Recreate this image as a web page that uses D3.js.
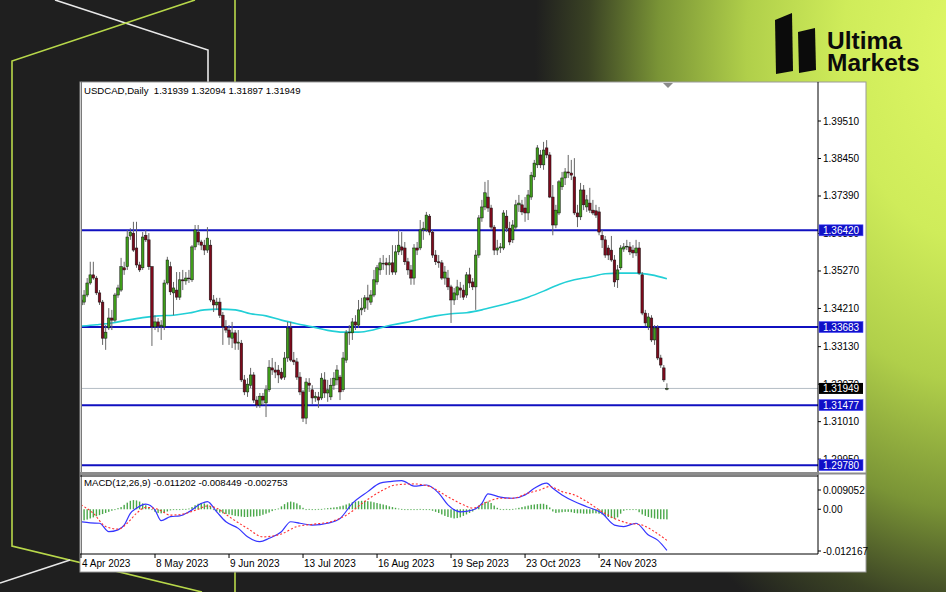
<!DOCTYPE html>
<html><head><meta charset="utf-8">
<script src="https://cdn.jsdelivr.net/npm/d3@7"></script>
<style>html,body{margin:0;padding:0;background:#1f1f1f;}svg{display:block}</style>
</head><body><svg id="c" width="946" height="592"></svg>
<script>
// ---------- DATA ----------
const opens=[1.3431,1.3439,1.3459,1.3493,1.3516,1.3507,1.3465,1.3439,1.3337,1.3366,
1.3394,1.3388,1.3459,1.3473,1.3536,1.3539,1.3626,1.3634,1.3592,1.3544,
1.3536,1.3628,1.3615,1.3539,1.3369,1.3383,1.3371,1.3369,1.3493,1.3539,
1.3465,1.3473,1.3453,1.3502,1.3499,1.3507,1.3502,1.3595,1.3637,1.3609,
1.3600,1.3586,1.3600,1.3445,1.3431,1.3439,1.3402,1.3369,1.3360,1.3337,
1.3352,1.3323,1.3323,1.3219,1.3185,1.3204,1.3233,1.3162,1.3148,1.3173,
1.3154,1.3191,1.3253,1.3247,1.3247,1.3241,1.3227,1.3281,1.3366,1.3275,
1.3270,1.3227,1.3185,1.3111,1.3210,1.3191,1.3168,1.3171,1.3168,1.3219,
1.3182,1.3171,1.3204,1.3219,1.3227,1.3191,1.3275,1.3352,1.3352,1.3383,
1.3374,1.3417,1.3422,1.3451,1.3439,1.3459,1.3496,1.3530,1.3547,1.3550,
1.3544,1.3550,1.3524,1.3581,1.3595,1.3592,1.3553,1.3530,1.3507,1.3592,
1.3592,1.3643,1.3643,1.3682,1.3637,1.3572,1.3553,1.3550,1.3507,1.3507,
1.3482,1.3445,1.3459,1.3479,1.3473,1.3459,1.3516,1.3496,1.3482,1.3572,
1.3677,1.3708,1.3736,1.3705,1.3651,1.3586,1.3592,1.3592,1.3682,1.3648,
1.3615,1.3651,1.3714,1.3714,1.3705,1.3691,1.3736,1.3793,1.3827,1.3855,
1.3827,1.3875,1.3855,1.3736,1.3657,1.3691,1.3765,1.3790,1.3807,1.3804,
1.3793,1.3691,1.3680,1.3756,1.3708,1.3719,1.3699,1.3697,1.3694,1.3628,
1.3615,1.3592,1.3586,1.3558,1.3502,1.3536,1.3589,1.3595,1.3595,1.3586,
1.3578,1.3592,1.3516,1.3408,1.3369,1.3394,1.3332,1.3366,1.3281,1.3253,
1.31939];
const highs=[1.3482,1.3473,1.3507,1.3553,1.3553,1.3513,1.3473,1.3445,1.3374,1.3422,
1.3417,1.3465,1.3488,1.3564,1.3553,1.3643,1.3648,1.3666,1.3666,1.3553,
1.3637,1.3643,1.3634,1.3541,1.3402,1.3394,1.3388,1.3502,1.3567,1.3553,
1.3496,1.3524,1.3524,1.3530,1.3524,1.3530,1.3600,1.3657,1.3657,1.3615,
1.3615,1.3651,1.3615,1.3459,1.3451,1.3451,1.3411,1.3388,1.3374,1.3383,
1.3360,1.3360,1.3332,1.3233,1.3224,1.3253,1.3241,1.3173,1.3182,1.3182,
1.3204,1.3275,1.3281,1.3270,1.3261,1.3253,1.3298,1.3383,1.3383,1.3298,
1.3281,1.3241,1.3191,1.3224,1.3224,1.3204,1.3185,1.3185,1.3238,1.3241,
1.3219,1.3224,1.3241,1.3261,1.3233,1.3298,1.3360,1.3374,1.3394,1.3402,
1.3445,1.3451,1.3459,1.3488,1.3473,1.3530,1.3544,1.3564,1.3572,1.3564,
1.3572,1.3600,1.3600,1.3643,1.3637,1.3609,1.3564,1.3544,1.3603,1.3609,
1.3671,1.3666,1.3694,1.3688,1.3643,1.3586,1.3572,1.3558,1.3541,1.3530,
1.3488,1.3479,1.3502,1.3496,1.3488,1.3524,1.3536,1.3507,1.3586,1.3685,
1.3728,1.3779,1.3784,1.3714,1.3657,1.3615,1.3606,1.3699,1.3699,1.3666,
1.3671,1.3728,1.3742,1.3728,1.3736,1.3756,1.3807,1.3841,1.3883,1.3869,
1.3892,1.3897,1.3863,1.3770,1.3714,1.3784,1.3807,1.3818,1.3855,1.3841,
1.3846,1.3714,1.3776,1.3770,1.3742,1.3762,1.3728,1.3714,1.3708,1.3643,
1.3626,1.3600,1.3626,1.3572,1.3544,1.3600,1.3606,1.3615,1.3609,1.3600,
1.3615,1.3609,1.3524,1.3417,1.3408,1.3402,1.3374,1.3374,1.3290,1.3261,
1.32094];
const lows=[1.3402,1.3431,1.3453,1.3488,1.3502,1.3459,1.3431,1.3318,1.3304,1.3360,
1.3360,1.3383,1.3451,1.3468,1.3516,1.3530,1.3615,1.3581,1.3536,1.3524,
1.3530,1.3609,1.3530,1.3315,1.3360,1.3354,1.3332,1.3360,1.3488,1.3459,
1.3402,1.3445,1.3445,1.3473,1.3488,1.3493,1.3496,1.3586,1.3600,1.3586,
1.3572,1.3578,1.3439,1.3411,1.3417,1.3394,1.3318,1.3352,1.3318,1.3309,
1.3304,1.3304,1.3213,1.3176,1.3171,1.3196,1.3154,1.3140,1.3140,1.3148,
1.3114,1.3185,1.3233,1.3224,1.3210,1.3219,1.3219,1.3270,1.3270,1.3261,
1.3219,1.3176,1.3100,1.3094,1.3185,1.3151,1.3157,1.3140,1.3162,1.3168,
1.3157,1.3162,1.3191,1.3204,1.3162,1.3185,1.3267,1.3318,1.3332,1.3360,
1.3366,1.3402,1.3411,1.3417,1.3431,1.3453,1.3488,1.3516,1.3530,1.3516,
1.3516,1.3516,1.3516,1.3572,1.3572,1.3544,1.3516,1.3488,1.3488,1.3572,
1.3586,1.3615,1.3637,1.3628,1.3564,1.3544,1.3536,1.3502,1.3488,1.3473,
1.3380,1.3431,1.3445,1.3451,1.3445,1.3451,1.3479,1.3473,1.3417,1.3564,
1.3666,1.3699,1.3694,1.3643,1.3572,1.3572,1.3578,1.3586,1.3637,1.3600,
1.3606,1.3643,1.3694,1.3685,1.3666,1.3671,1.3728,1.3784,1.3818,1.3818,
1.3813,1.3846,1.3733,1.3628,1.3648,1.3685,1.3756,1.3770,1.3790,1.3784,
1.3685,1.3651,1.3671,1.3699,1.3694,1.3691,1.3685,1.3677,1.3628,1.3592,
1.3564,1.3558,1.3553,1.3482,1.3479,1.3530,1.3581,1.3586,1.3572,1.3564,
1.3569,1.3516,1.3402,1.3371,1.3360,1.3326,1.3318,1.3275,1.3253,1.3213,
1.31897];
const closes=[1.3445,1.3459,1.3493,1.3516,1.3507,1.3465,1.3439,1.3337,1.3354,1.3394,
1.3388,1.3459,1.3479,1.3539,1.3530,1.3623,1.3637,1.3586,1.3544,1.3530,
1.3623,1.3615,1.3539,1.3369,1.3383,1.3371,1.3374,1.3493,1.3558,1.3468,
1.3479,1.3453,1.3502,1.3499,1.3507,1.3505,1.3595,1.3643,1.3609,1.3600,
1.3586,1.3620,1.3445,1.3431,1.3439,1.3402,1.3369,1.3360,1.3340,1.3352,
1.3323,1.3326,1.3219,1.3185,1.3207,1.3233,1.3162,1.3148,1.3173,1.3162,
1.3191,1.3255,1.3247,1.3241,1.3233,1.3224,1.3281,1.3366,1.3275,1.3270,
1.3227,1.3185,1.3111,1.3213,1.3204,1.3168,1.3173,1.3162,1.3224,1.3182,
1.3191,1.3204,1.3224,1.3247,1.3185,1.3281,1.3352,1.3354,1.3383,1.3374,
1.3417,1.3422,1.3451,1.3445,1.3459,1.3502,1.3536,1.3550,1.3549,1.3544,
1.3550,1.3524,1.3581,1.3600,1.3586,1.3553,1.3530,1.3507,1.3592,1.3586,
1.3643,1.3648,1.3685,1.3637,1.3572,1.3553,1.3550,1.3507,1.3524,1.3482,
1.3445,1.3465,1.3482,1.3473,1.3453,1.3516,1.3493,1.3482,1.3572,1.3677,
1.3708,1.3748,1.3705,1.3651,1.3586,1.3592,1.3595,1.3691,1.3648,1.3609,
1.3657,1.3714,1.3719,1.3694,1.3691,1.3742,1.3798,1.3832,1.3875,1.3827,
1.3869,1.3855,1.3736,1.3657,1.3699,1.3779,1.3790,1.3807,1.3804,1.3798,
1.3691,1.3680,1.3756,1.3714,1.3728,1.3699,1.3691,1.3685,1.3637,1.3615,
1.3572,1.3572,1.3558,1.3496,1.3530,1.3592,1.3595,1.3597,1.3581,1.3578,
1.3592,1.3521,1.3408,1.3380,1.3397,1.3332,1.3366,1.3281,1.3261,1.3219,
1.31949];
// moving average, read every 5 bars
const maIdx=[0,5,10,15,20,25,30,35,40,45,50,55,60,65,70,75,80,85,90,95,100,105,110,115,120,125,130,135,140,145,150,155,160,165,170,175,180,185,190];
const maVals=[1.3371,1.3375,1.3380,1.3388,1.3395,1.3400,1.3402,1.3408,1.3417,1.3419,1.3417,1.3406,1.3400,1.3388,1.3378,1.3369,1.3359,1.3354,1.3354,1.3361,1.3373,1.3381,1.3391,1.3400,1.3406,1.3409,1.3417,1.3428,1.3439,1.3453,1.3470,1.3489,1.3502,1.3510,1.3519,1.3521,1.3521,1.3516,1.3505];
// MACD main line
const macdIdx=[0,3,6,9,12,14,16,18,21,24,26,29,32,35,39,41,44,47,51,54,58,61,65,68,71,75,80,84,88,93,97,100,104,108,112,116,119,123,127,130,132,136,140,144,147,151,153,156,160,164,169,173,176,180,184,187,190];
const macdVals=[-0.0034,-0.0037,-0.0038,-0.0061,-0.0056,-0.0043,-0.0011,0.0003,0.0014,-0.0002,-0.0031,-0.0020,-0.0018,-0.0007,0.0016,0.0021,-0.0007,-0.0034,-0.0052,-0.0075,-0.0088,-0.0079,-0.0061,-0.0034,-0.0038,-0.0043,-0.0038,-0.0025,0.0016,0.0048,0.0071,0.0075,0.0078,0.0063,0.0066,0.0044,0.0012,-0.0007,-0.0002,0.0016,0.0042,0.0033,0.0030,0.0039,0.0057,0.0071,0.0057,0.0039,0.0021,0.0007,-0.0011,-0.0043,-0.0047,-0.0038,-0.0070,-0.0084,-0.011202];
// MACD signal line
const sigIdx=[0,4,8,12,15,18,21,25,29,33,38,41,44,48,54,59,65,70,75,81,86,92,97,102,108,113,119,124,127,132,136,140,145,149,152,156,160,164,169,173,177,182,186,190];
const sigVals=[0.0012,-0.0011,-0.0047,-0.0054,-0.0038,-0.0011,0.0005,0.0000,-0.0016,-0.0013,0.0000,0.0009,0.0003,-0.0020,-0.0052,-0.0075,-0.0067,-0.0047,-0.0041,-0.0034,-0.0016,0.0021,0.0048,0.0066,0.0069,0.0062,0.0034,0.0012,0.0003,0.0021,0.0030,0.0030,0.0044,0.0053,0.0062,0.0048,0.0039,0.0021,-0.0007,-0.0025,-0.0037,-0.0043,-0.0061,-0.008449];
// MACD histogram, one per bar
const histVals=[-0.0030,-0.0030,-0.0028,-0.0025,-0.0022,-0.0019,-0.0016,-0.0013,-0.0010,-0.0007,
-0.0004,-0.0001,0.0003,0.0006,0.0012,0.0018,0.0023,0.0025,0.0024,0.0021,
0.0016,0.0011,0.0005,-0.0002,-0.0007,-0.0010,-0.0011,-0.0009,-0.0006,-0.0003,
-0.0001,-0.0001,0.0000,0.0001,0.0001,0.0002,0.0006,0.0011,0.0015,0.0017,
0.0016,0.0013,0.0008,-0.0002,-0.0006,-0.0009,-0.0011,-0.0013,-0.0014,-0.0016,
-0.0018,-0.0019,-0.0020,-0.0021,-0.0021,-0.0020,-0.0020,-0.0019,-0.0018,-0.0015,
-0.0012,-0.0009,-0.0005,-0.0002,0.0002,0.0008,0.0014,0.0019,0.0021,0.0019,
0.0016,0.0011,0.0004,0.0000,0.0001,0.0000,0.0000,0.0001,0.0001,0.0002,
0.0003,0.0004,0.0005,0.0006,0.0008,0.0010,0.0013,0.0016,0.0019,0.0021,
0.0022,0.0023,0.0023,0.0022,0.0021,0.0019,0.0017,0.0015,0.0013,0.0011,
0.0008,0.0006,0.0004,0.0002,0.0001,0.0000,0.0000,-0.0001,0.0000,0.0000,
0.0001,0.0000,-0.0001,-0.0002,-0.0004,-0.0007,-0.0010,-0.0014,-0.0018,-0.0021,
-0.0023,-0.0025,-0.0024,-0.0022,-0.0018,-0.0014,-0.0010,-0.0006,0.0003,0.0010,
0.0016,0.0020,0.0021,0.0017,0.0010,0.0004,0.0001,0.0000,0.0001,0.0000,
0.0001,0.0002,0.0004,0.0006,0.0008,0.0010,0.0012,0.0013,0.0014,0.0015,
0.0015,0.0012,0.0005,-0.0006,-0.0010,-0.0009,-0.0008,-0.0007,-0.0007,-0.0008,
-0.0010,-0.0011,-0.0011,-0.0012,-0.0012,-0.0012,-0.0011,-0.0011,-0.0012,-0.0014,
-0.0018,-0.0021,-0.0024,-0.0026,-0.0022,-0.0012,-0.0004,-0.0002,-0.0001,0.0000,
-0.0001,-0.0008,-0.0014,-0.0018,-0.0021,-0.0023,-0.0025,-0.0026,-0.0027,-0.0027,
-0.002753];
const levels=[1.36420,1.33683,1.31477,1.29780];
const lastPrice=1.31949;
const priceTicks=[1.39510,1.38450,1.37390,1.36330,1.35270,1.34210,1.33130,1.32070,1.31010,1.29950];
const macdTicks=[0.009052,0.0,-0.012167];
const macdTickLabels=["0.009052","0.00","-0.012167"];
const dateTickIdx=[0,24,48,72,96,120,144,168];
const dateTickLabels=["4 Apr 2023","8 May 2023","9 Jun 2023","13 Jul 2023","16 Aug 2023","19 Sep 2023","23 Oct 2023","24 Nov 2023"];
const titleText="USDCAD,Daily  1.31939 1.32094 1.31897 1.31949";
const macdTitle="MACD(12,26,9) -0.011202 -0.008449 -0.002753";

// ---------- DRAW ----------
const svg=d3.select("#c");
const FONT="'Liberation Sans', Arial, sans-serif";
const defs=svg.append("defs");
const rg=defs.append("radialGradient").attr("id","bg").attr("gradientUnits","userSpaceOnUse")
  .attr("cx",975).attr("cy",50).attr("r",440)
  .attr("gradientTransform","translate(975,50) scale(1,1.45) translate(-975,-50)");
[[0,"#e0f866"],[0.3,"#cfec5a"],[0.52,"#b0cf4a"],[0.72,"#7a9436"],[0.88,"#3a4224"],[1,"#1f1f1f"]]
 .forEach(s=>rg.append("stop").attr("offset",s[0]).attr("stop-color",s[1]));
svg.append("rect").attr("width",946).attr("height",592).attr("fill","#1f1f1f");
svg.append("rect").attr("width",946).attr("height",592).attr("fill","url(#bg)");

// decorative lines
const deco=svg.append("g").attr("fill","none").attr("stroke-width",1.6);
deco.append("path").attr("d","M55,0 L208,50 L208,82").attr("stroke","#e8e8e8");
deco.append("path").attr("d","M195,0 L12,61 L12,546 L202,592").attr("stroke","#b8d84a");
deco.append("path").attr("d","M235,0 L235,82 M235,572 L235,592").attr("stroke","#b8d84a");
deco.append("path").attr("d","M0,583 L70,560").attr("stroke","#e8e8e8");

// logo
const logo=svg.append("g");
logo.append("path").attr("d","M775,20 L792,13 L793,71 L776,74 Z").attr("fill","#0b0b0b");
logo.append("path").attr("d","M798,32 L815,28 L816,70 L799,73 Z").attr("fill","#0b0b0b");
logo.append("text").attr("x",827).attr("y",49).attr("font-family",FONT).attr("font-weight","bold").attr("font-size",24.5).attr("fill","#0b0b0b").text("Ultima");
logo.append("text").attr("x",827).attr("y",71).attr("font-family",FONT).attr("font-weight","bold").attr("font-size",24.5).attr("fill","#0b0b0b").text("Markets");

// chart panel
const PL=80, PT=82, PR=866, PB=572, AX=818;
svg.append("rect").attr("x",PL).attr("y",PT).attr("width",PR-PL).attr("height",PB-PT).attr("fill","#ffffff").attr("stroke","#9a9a9a");
svg.append("line").attr("x1",PL+1.5).attr("x2",PL+1.5).attr("y1",PT).attr("y2",554).attr("stroke","#7a7a7a");

const mainTop=83, mainBot=472, macdTop=476, macdBot=554;
const x=d3.scaleLinear().domain([0,239]).range([81,818]);
const y=d3.scaleLinear().domain([1.29558,1.40613]).range([473,82]);
const ym=d3.scaleLinear().domain([-0.012167,0.009052]).range([macdBot,macdTop]);

defs.append("clipPath").attr("id","cm").append("rect").attr("x",PL+2).attr("y",mainTop).attr("width",AX-PL-2).attr("height",mainBot-mainTop);
defs.append("clipPath").attr("id","cd").append("rect").attr("x",PL+2).attr("y",macdTop+1).attr("width",AX-PL-2).attr("height",macdBot-macdTop-1);

const gm=svg.append("g").attr("clip-path","url(#cm)");
gm.append("line").attr("x1",PL).attr("x2",AX).attr("y1",y(lastPrice)).attr("y2",y(lastPrice)).attr("stroke","#b4bcc4").attr("stroke-width",1);
gm.selectAll("line.lv").data(levels).join("line").attr("class","lv")
  .attr("x1",PL).attr("x2",AX).attr("y1",d=>y(d)).attr("y2",d=>y(d)).attr("stroke","#1010c0").attr("stroke-width",2);
const maData=maIdx.map((d,i)=>[d,maVals[i]]);
gm.append("path").datum(maData).attr("fill","none").attr("stroke","#22cfd6").attr("stroke-width",1.6)
  .attr("d",d3.line().x(d=>x(d[0])).y(d=>y(d[1])).curve(d3.curveMonotoneX));
const idx=d3.range(closes.length);
gm.selectAll("line.wk").data(idx).join("line").attr("class","wk")
  .attr("x1",i=>x(i)).attr("x2",i=>x(i)).attr("y1",i=>y(highs[i])).attr("y2",i=>y(lows[i]))
  .attr("stroke","#666").attr("stroke-width",1);
gm.selectAll("rect.bd").data(idx).join("rect").attr("class","bd")
  .attr("x",i=>x(i)-1.3).attr("width",2.6)
  .attr("y",i=>y(Math.max(opens[i],closes[i])))
  .attr("height",i=>Math.max(0.8,Math.abs(y(opens[i])-y(closes[i]))))
  .attr("fill",i=>closes[i]>=opens[i]?"#3f9d1a":"#7d0a1c")
  .attr("stroke","#111").attr("stroke-width",0.5);

svg.append("text").attr("x",84).attr("y",94).attr("font-family",FONT).attr("font-size",9.6).attr("fill","#000").attr("xml:space","preserve").text(titleText);
svg.append("path").attr("d","M663,83 L673,83 L668,88 Z").attr("fill","#8a8a8a");

// price axis
svg.append("line").attr("x1",AX).attr("x2",AX).attr("y1",PT).attr("y2",macdBot).attr("stroke","#000");
const pa=svg.append("g");
priceTicks.forEach(v=>{
  pa.append("line").attr("x1",AX).attr("x2",AX+3).attr("y1",y(v)).attr("y2",y(v)).attr("stroke","#000");
  pa.append("text").attr("x",AX+5).attr("y",y(v)).attr("dy","0.35em").attr("font-family",FONT).attr("font-size",10).attr("fill","#000").text(v.toFixed(5));
});
levels.forEach(v=>{
  pa.append("rect").attr("x",AX+1).attr("y",y(v)-5.5).attr("width",44).attr("height",11).attr("fill","#1010c8").attr("stroke","#5050ff").attr("stroke-width",0.6);
  pa.append("text").attr("x",AX+5).attr("y",y(v)).attr("dy","0.36em").attr("font-family",FONT).attr("font-size",10).attr("fill","#fff").text(v.toFixed(5));
});
pa.append("rect").attr("x",AX+1).attr("y",y(lastPrice)-5.5).attr("width",44).attr("height",11).attr("fill","#000");
pa.append("text").attr("x",AX+5).attr("y",y(lastPrice)).attr("dy","0.36em").attr("font-family",FONT).attr("font-size",10).attr("fill","#fff").text(lastPrice.toFixed(5));

// separator
svg.append("rect").attr("x",PL).attr("y",472).attr("width",AX-PL).attr("height",3).attr("fill","#8c8c8c");
svg.append("line").attr("x1",PL).attr("x2",AX).attr("y1",476).attr("y2",476).attr("stroke","#000");
svg.append("line").attr("x1",AX).attr("x2",PR).attr("y1",473.5).attr("y2",473.5).attr("stroke","#8c8c8c").attr("stroke-width",2);

// MACD panel
const gd=svg.append("g").attr("clip-path","url(#cd)");
gd.selectAll("rect.h").data(idx).join("rect").attr("class","h")
  .attr("x",i=>x(i)-0.7).attr("width",1.4)
  .attr("y",i=>Math.min(ym(histVals[i]),ym(0)))
  .attr("height",i=>Math.max(0.8,Math.abs(ym(histVals[i])-ym(0))))
  .attr("fill","#4aa84a");
gd.append("path").datum(macdIdx.map((d,i)=>[d,macdVals[i]])).attr("fill","none").attr("stroke","#3535ff").attr("stroke-width",1.2)
  .attr("d",d3.line().x(d=>x(d[0])).y(d=>ym(d[1])).curve(d3.curveMonotoneX));
gd.append("path").datum(sigIdx.map((d,i)=>[d,sigVals[i]])).attr("fill","none").attr("stroke","#ff3030").attr("stroke-width",1.1).attr("stroke-dasharray","2,2")
  .attr("d",d3.line().x(d=>x(d[0])).y(d=>ym(d[1])).curve(d3.curveMonotoneX));
svg.append("text").attr("x",84).attr("y",486).attr("font-family",FONT).attr("font-size",9.6).attr("fill","#000").text(macdTitle);
macdTicks.forEach((v,k)=>{
  const yy = k===0 ? ym(v)+14 : (k===2 ? ym(v)-3 : ym(v));
  svg.append("line").attr("x1",AX).attr("x2",AX+3).attr("y1",yy).attr("y2",yy).attr("stroke","#000");
  svg.append("text").attr("x",AX+5).attr("y",yy).attr("dy","0.35em").attr("font-family",FONT).attr("font-size",10).attr("fill","#000").text(macdTickLabels[k]);
});
svg.append("line").attr("x1",PL).attr("x2",AX).attr("y1",macdBot).attr("y2",macdBot).attr("stroke","#000");

dateTickIdx.forEach((d,k)=>{
  svg.append("line").attr("x1",x(d)).attr("x2",x(d)).attr("y1",macdBot).attr("y2",macdBot+4).attr("stroke","#000");
  svg.append("text").attr("x",x(d)+1).attr("y",567).attr("font-family",FONT).attr("font-size",10).attr("fill","#000").text(dateTickLabels[k]);
});
</script></body></html>
